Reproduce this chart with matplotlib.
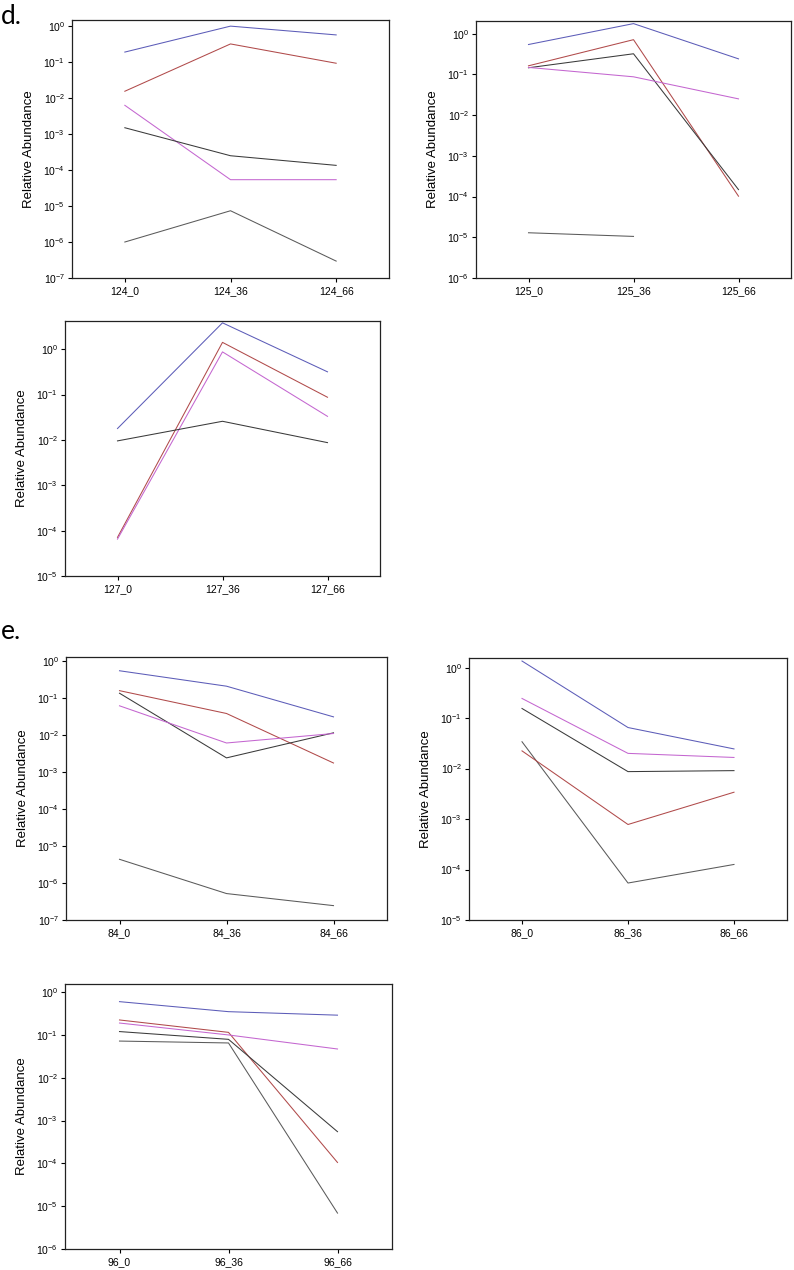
import numpy as np
import matplotlib
matplotlib.use("Agg")
import matplotlib.pyplot as plt

plt.rcParams['font.family'] = ['Liberation Sans', 'DejaVu Sans']
plt.rcParams['mathtext.fontset'] = 'custom'
plt.rcParams['mathtext.rm'] = 'Liberation Sans'
plt.rcParams['mathtext.it'] = 'Liberation Sans:italic'
plt.rcParams['mathtext.bf'] = 'Liberation Sans:bold'

W, H = 794, 1270

blue = '#5c5cb8'
red = '#b04a4a'
mag = '#c466d0'
blk = '#3a3a3a'
gry = '#5a5a5a'

# ---- panel data (relative abundance, 3 time points each) ----
lab_124 = ['124_0', '124_36', '124_66']
s124_blue = [0.19, 1.0, 0.57]
s124_red = [0.0155, 0.32, 0.093]
s124_mag = [0.0063, 5.4e-5, 5.4e-5]
s124_blk = [1.5e-3, 2.5e-4, 1.35e-4]
s124_gry = [1.0e-6, 7.4e-6, 2.95e-7]

lab_125 = ['125_0', '125_36', '125_66']
s125_blue = [0.54, 1.76, 0.24]
s125_red = [0.162, 0.71, 1.02e-4]
s125_blk = [0.145, 0.32, 1.48e-4]
s125_mag = [0.148, 0.087, 0.025]
s125_gry = [1.29e-5, 1.05e-5, np.nan]

lab_127 = ['127_0', '127_36', '127_66']
s127_blue = [0.0178, 3.8, 0.316]
s127_red = [7.1e-5, 1.41, 0.087]
s127_mag = [6.5e-5, 0.87, 0.033]
s127_blk = [0.0095, 0.0257, 0.0087]

lab_84 = ['84_0', '84_36', '84_66']
s84_blue = [0.56, 0.214, 0.0316]
s84_red = [0.162, 0.039, 0.00178]
s84_blk = [0.138, 0.00245, 0.0117]
s84_mag = [0.063, 0.0062, 0.0112]
s84_gry = [4.4e-6, 5.2e-7, 2.45e-7]

lab_86 = ['86_0', '86_36', '86_66']
s86_blue = [1.35, 0.065, 0.0245]
s86_mag = [0.245, 0.020, 0.0166]
s86_blk = [0.155, 0.0087, 0.0091]
s86_gry = [0.034, 5.4e-5, 1.26e-4]
s86_red = [0.0224, 7.8e-4, 3.4e-3]

lab_96 = ['96_0', '96_36', '96_66']
s96_blue = [0.60, 0.35, 0.29]
s96_red = [0.224, 0.115, 1.05e-4]
s96_mag = [0.19, 0.10, 0.047]
s96_blk = [0.12, 0.079, 5.5e-4]
s96_gry = [0.072, 0.065, 6.9e-6]

panels = [
    # (labels, [(series, colour)], ymin, ymax, box px: left, top, right, bottom)
    (lab_124, [(s124_blue, blue), (s124_red, red), (s124_mag, mag), (s124_blk, blk), (s124_gry, gry)],
     1e-7, 1.48, (72, 20, 389, 278)),
    (lab_125, [(s125_blue, blue), (s125_red, red), (s125_blk, blk), (s125_mag, mag), (s125_gry, gry)],
     1e-6, 2.04, (476, 21, 791, 278)),
    (lab_127, [(s127_blue, blue), (s127_red, red), (s127_mag, mag), (s127_blk, blk)],
     1e-5, 4.17, (65, 321, 380, 576)),
    (lab_84, [(s84_blue, blue), (s84_red, red), (s84_blk, blk), (s84_mag, mag), (s84_gry, gry)],
     1e-7, 1.32, (66, 657, 387, 920)),
    (lab_86, [(s86_blue, blue), (s86_mag, mag), (s86_blk, blk), (s86_gry, gry), (s86_red, red)],
     1e-5, 1.55, (469, 658, 787, 920)),
    (lab_96, [(s96_blue, blue), (s96_red, red), (s96_mag, mag), (s96_blk, blk), (s96_gry, gry)],
     1e-6, 1.55, (65, 984, 392, 1249)),
]

fig = plt.figure(figsize=(W / 100, H / 100), dpi=100)

for labels, series, ymin, ymax, box in panels:
    l, t, r, b = box
    ax = fig.add_axes([l / W, 1 - b / H, (r - l) / W, (b - t) / H])
    x = np.arange(len(labels))
    for vals, col in series:
        ax.plot(x, vals, color=col, lw=0.75)
    ax.set_yscale('log')
    ax.set_ylim(ymin, ymax)
    ax.set_xlim(-0.5, 2.5)
    ax.set_xticks(x)
    ax.set_xticklabels(labels, fontsize=7.5)
    lo = int(round(np.log10(ymin)))
    ax.set_yticks([10.0 ** k for k in range(lo, 1)])
    ax.yaxis.set_minor_locator(matplotlib.ticker.NullLocator())
    ax.tick_params(axis='y', labelsize=7.5, length=3, width=0.8, pad=2)
    ax.tick_params(axis='x', length=3, width=0.8, pad=3)
    for sp in ax.spines.values():
        sp.set_linewidth(0.9)
        sp.set_color('#222222')
    ax.set_ylabel('Relative Abundance', fontsize=9.5, labelpad=6)

fig.text(1 / W, 1 - 24 / H, 'd.', fontsize=19, family=['Lato', 'DejaVu Sans'], va='baseline')
fig.text(1 / W, 1 - 639 / H, 'e.', fontsize=19, family=['Lato', 'DejaVu Sans'], va='baseline')

fig.savefig('out.png', dpi=100)
